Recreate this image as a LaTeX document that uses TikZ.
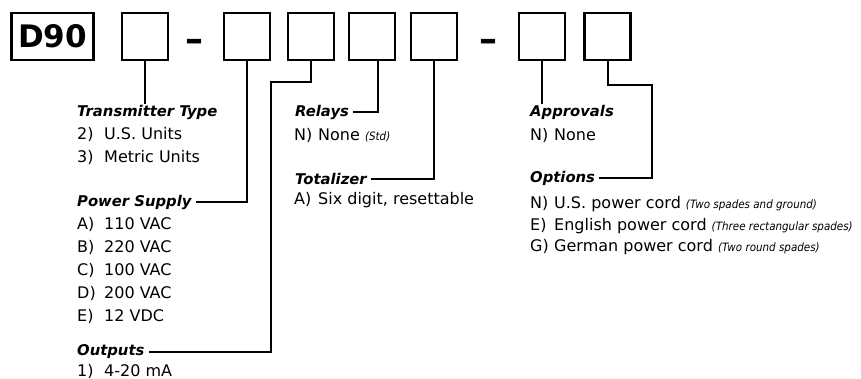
\documentclass[tikz,border=0pt]{standalone}
\usepackage{fontspec}
\setmainfont{DejaVu Sans}
\newfontfamily\condfont{DejaVu Sans Condensed}
\usetikzlibrary{positioning}
\tikzset{
  codebox/.style={rectangle, draw=black, line width=2.2pt,
                  minimum width=46pt, minimum height=47pt, inner sep=0pt},
  head/.style={anchor=west, inner xsep=4pt, inner ysep=1pt,
               font=\fontsize{14.8}{16}\selectfont\bfseries\itshape},
  item/.style={anchor=west, inner xsep=0pt, inner ysep=1pt,
               font=\fontsize{16}{18}\selectfont},
  dashmark/.style={font=\fontsize{36}{36}\selectfont\bfseries, inner sep=0pt},
  conn/.style={line width=2pt, draw=black},
}
\newcommand{\optcode}[2][24pt]{\makebox[#1][l]{#2}}
\newcommand{\optnote}[1]{{\condfont\fontsize{11.5}{12}\selectfont\itshape #1}}

\begin{document}
\begin{tikzpicture}[x=1pt, y=-1pt]
  \useasboundingbox (0,0) rectangle (861,379);
  % model code boxes
  \node[codebox, minimum width=82pt, font=\fontsize{31}{33}\selectfont\bfseries]
        (d90) at (52.5,36.5) {D90};
  \node[codebox] (typebox) at (145,36.5) {};
  \node[dashmark] (dashA) at (194,45) {–};
  \node[codebox] (powerbox) at (247,36.5) {};
  \node[codebox] (outbox) at (311,36.5) {};
  \node[codebox] (relaybox) at (372,36.5) {};
  \node[codebox] (totalbox) at (434,36.5) {};
  \node[dashmark] (dashB) at (488,45) {–};
  \node[codebox] (apprbox) at (542,36.5) {};
  \node[codebox] (optbox) at (607.5,36.5) {};

  % left column
  \node[head] (typehead) at (73,112) {Transmitter Type};
  \node[item] (type2) at (77,134) {\optcode[27pt]{2)}U.S. Units};
  \node[item] (type3) at (77,157) {\optcode[27pt]{3)}Metric Units};
  \node[head] (powerhead) at (73,202) {Power Supply};
  \node[item] (powerA) at (77,224) {\optcode[27pt]{A)}110 VAC};
  \node[item] (powerB) at (77,247) {\optcode[27pt]{B)}220 VAC};
  \node[item] (powerC) at (77,270) {\optcode[27pt]{C)}100 VAC};
  \node[item] (powerD) at (77,293) {\optcode[27pt]{D)}200 VAC};
  \node[item] (powerE) at (77,316) {\optcode[27pt]{E)}12 VDC};
  \node[head] (outhead) at (73,352) {Outputs};
  \node[item] (out1) at (77,371) {\optcode[27pt]{1)}4-20 mA};

  % middle column
  \node[head] (relayhead) at (291,112) {Relays};
  \node[item] (relayN) at (294,135) {\optcode{N)}None \optnote{(Std)}};
  \node[head] (totalhead) at (291,179) {Totalizer};
  \node[item] (totalA) at (294,200) {\optcode{A)}Six digit, resettable};

  % right column
  \node[head] (apprhead) at (526,112) {Approvals};
  \node[item] (apprN) at (530,135) {\optcode{N)}None};
  \node[head] (opthead) at (526,178) {Options};
  \node[item] (optN) at (530,204)
        {\optcode{N)}U.S. power cord \optnote{(Two spades and ground)}};
  \node[item] (optE) at (530,226)
        {\optcode{E)}English power cord \optnote{(Three rectangular spades)}};
  \node[item] (optG) at (530,247)
        {\optcode{G)}German power cord \optnote{(Two round spades)}};

  % leader lines
  \coordinate (outbend) at (271,82);
  \coordinate (optbend) at (652,85);
  \draw[conn] (typebox.south) -- (typebox.south |- typehead.north);
  \draw[conn] (powerbox.south) |- (powerhead.east);
  \draw[conn] (outbox.south) |- (outbend) |- (outhead.east);
  \draw[conn] ([xshift=6pt]relaybox.south) |- (relayhead.east);
  \draw[conn] (totalbox.south) |- (totalhead.east);
  \draw[conn] (apprbox.south) -- (apprbox.south |- apprhead.north);
  \draw[conn] (optbox.south) |- (optbend) |- (opthead.east);
\end{tikzpicture}
\end{document}
